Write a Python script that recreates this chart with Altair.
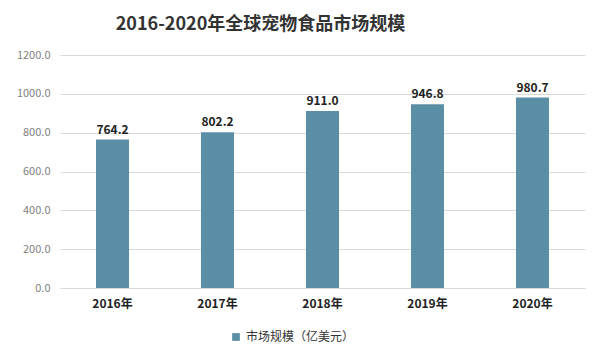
import altair as alt
import pandas as pd

years = ["2016年", "2017年", "2018年", "2019年", "2020年"]
values = [764.2, 802.2, 911.0, 946.8, 980.7]
series = "市场规模（亿美元）"
y_ticks = [0, 200, 400, 600, 800, 1000, 1200]

df = pd.DataFrame({"year": years, "value": values, "series": [series] * len(years)})

FONT = "Noto Sans CJK SC"

x_enc = alt.X("year:N", sort=years, title=None,
              scale=alt.Scale(paddingInner=0.68, paddingOuter=0.34),
              axis=alt.Axis(labelAngle=0, labelFont=FONT, labelFontWeight="bold",
                            labelFontSize=12, labelColor="#222222", ticks=False,
                            domainColor="#d9d9d9", labelPadding=10))
y_enc = alt.Y("value:Q", title=None,
              scale=alt.Scale(domain=[0, 1200], nice=False),
              axis=alt.Axis(values=y_ticks, format=".1f",
                            labelFont=FONT, labelFontSize=11, labelColor="#7f7f7f",
                            labelOverlap=False, labelFlush=False,
                            ticks=False, domain=False, gridColor="#d9d9d9",
                            labelPadding=10))

base = alt.Chart(df)

bars = base.mark_bar(size=33, color="#5b8fa6").encode(
    x=x_enc,
    y=y_enc,
    color=alt.Color("series:N", scale=alt.Scale(range=["#5b8fa6"]),
                    legend=alt.Legend(title=None, orient="none", legendX=170, legendY=276,
                                      symbolType="square", symbolSize=60,
                                      labelFont=FONT, labelFontSize=12, labelColor="#333333")),
)

text = base.mark_text(dy=-10, font=FONT, fontWeight="bold", fontSize=12, color="#222222").encode(
    x=x_enc,
    y=y_enc,
    text=alt.Text("value:Q", format=".1f"),
)

chart = alt.layer(bars, text).properties(
    width=525,
    height=233,
    autosize=alt.AutoSizeParams(type="none"),
    padding={"left": 52, "top": 47, "right": 7, "bottom": 58},
    title=alt.TitleParams("2016-2020年全球宠物食品市场规模", font=FONT, fontSize=18,
                          fontWeight="bold", color="#333333", anchor="middle",
                          dx=-62, offset=15),
    background="white",
).configure_view(stroke=None)

chart.save("out.html", embed_options={"renderer": "svg", "actions": False})
